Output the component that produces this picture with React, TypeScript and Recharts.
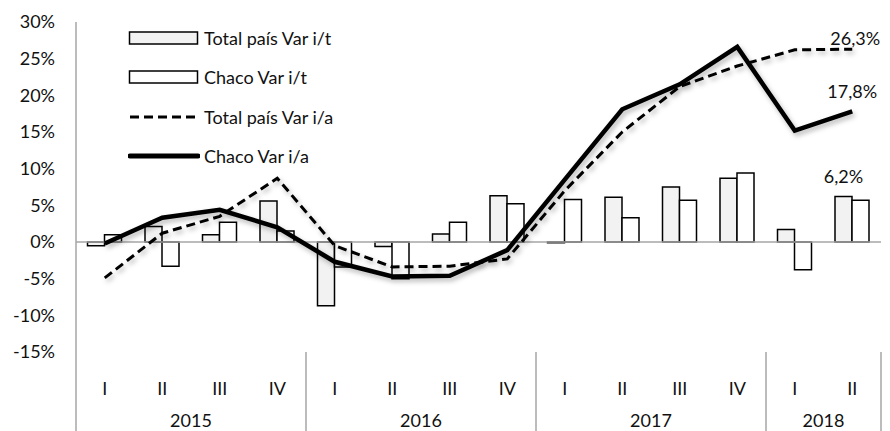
import React from 'react';
import { ComposedChart, Bar, Line, XAxis, YAxis, ReferenceLine, LabelList, Legend } from 'recharts';

const quarters = ['I', 'II', 'III', 'IV', 'I', 'II', 'III', 'IV', 'I', 'II', 'III', 'IV', 'I', 'II'];
const years = ['2015', '2015', '2015', '2015', '2016', '2016', '2016', '2016', '2017', '2017', '2017', '2017', '2018', '2018'];
const totalQoQ = [-0.5, 2.1, 1.0, 5.6, -8.7, -0.6, 1.1, 6.3, -0.1, 6.1, 7.5, 8.7, 1.7, 6.2];
const chacoQoQ = [1.0, -3.3, 2.7, 1.5, -3.4, -5.0, 2.7, 5.2, 5.8, 3.3, 5.7, 9.4, -3.8, 5.7];
const totalYoY = [-4.9, 1.2, 3.5, 8.7, -0.5, -3.4, -3.3, -2.3, 7.0, 15.0, 21.2, 24.0, 26.2, 26.3];
const chacoYoY = [-0.2, 3.3, 4.4, 2.0, -2.7, -4.7, -4.6, -1.1, 8.5, 18.1, 21.5, 26.6, 15.2, 17.8];
const yTicks = [-15, -10, -5, 0, 5, 10, 15, 20, 25, 30];

const seriesNames = ['Total país Var i/t', 'Chaco Var i/t', 'Total país Var i/a', 'Chaco Var i/a'];

const data = quarters.map((q, i) => ({
  key: `${years[i]}-${q}`,
  q,
  year: years[i],
  totalQoQ: totalQoQ[i],
  chacoQoQ: chacoQoQ[i],
  totalYoY: totalYoY[i],
  chacoYoY: chacoYoY[i],
}));

const FONT = 'Lato, "Open Sans", sans-serif';
const FS = 18;
const TEXT = '#111';
const AXIS = '#a6a6a6';
const LAST = quarters.length - 1;

const fmt = (v: number) => `${v.toFixed(1).replace('.', ',')}%`;

const XTick = (props: any) => {
  const { x, y, index, payload } = props;
  const half = payload && payload.offset ? payload.offset : 57.5 / 2;
  const band = half * 2;
  const year = years[index];
  const isStart = index === 0 || years[index - 1] !== year;
  let count = 0;
  for (let j = index; j < years.length && years[j] === year; j++) count++;
  const els: any[] = [];
  els.push(
    <text key="q" x={x} y={y + 36} textAnchor="middle" dominantBaseline="central" fontSize={FS} fill={TEXT} fontFamily={FONT}>
      {quarters[index]}
    </text>
  );
  if (isStart) {
    const left = x - half;
    els.push(<line key="s" x1={left} x2={left} y1={y} y2={y + 79} stroke={AXIS} strokeWidth={1.5} />);
    els.push(
      <text key="y" x={left + (count * band) / 2} y={y + 68} textAnchor="middle" dominantBaseline="central" fontSize={FS} fill={TEXT} fontFamily={FONT}>
        {year}
      </text>
    );
  }
  if (index === LAST) {
    els.push(<line key="e" x1={x + half} x2={x + half} y1={y} y2={y + 79} stroke={AXIS} strokeWidth={1.5} />);
  }
  return <g>{els}</g>;
};

const makeLabel = (dy: number, dx: number) => (props: any) => {
  const { x, y, value, index, width } = props;
  if (index !== LAST) return null;
  const cx = width ? x + width / 2 : x;
  return (
    <text x={cx + dx} y={y - dy} textAnchor="middle" dominantBaseline="central" fontSize={FS} fill={TEXT} fontFamily={FONT}>
      {fmt(Number(value))}
    </text>
  );
};

const LegendContent = () => {
  const row = (i: number, icon: React.ReactNode) => (
    <div key={i} style={{ position: 'absolute', left: 0, top: i * 39.3, height: 20, display: 'flex', alignItems: 'center', whiteSpace: 'nowrap' }}>
      <svg width={72} height={20} style={{ display: 'block' }}>{icon}</svg>
      <span style={{ marginLeft: 4, fontSize: FS, color: TEXT, fontFamily: FONT, lineHeight: '20px' }}>{seriesNames[i]}</span>
    </div>
  );
  return (
    <div style={{ position: 'relative', width: 260, height: 140 }}>
      {row(0, <rect x={1.5} y={4} width={68} height={12} fill="#f2f2f2" stroke="#000" strokeWidth={1.5} />)}
      {row(1, <rect x={1.5} y={4} width={68} height={12} fill="#fff" stroke="#000" strokeWidth={1.5} />)}
      {row(2, <line x1={2} x2={70} y1={10} y2={10} stroke="#000" strokeWidth={3} strokeDasharray="9 5" />)}
      {row(3, <line x1={2} x2={70} y1={10} y2={10} stroke="#000" strokeWidth={5} strokeLinecap="round" />)}
    </div>
  );
};

export default function App() {
  return (
    <div style={{ position: 'absolute', left: 0, top: 0, width: 890, height: 431, background: '#fff' }}>
      <ComposedChart
        width={890}
        height={431}
        data={data}
        margin={{ top: 22, right: 9, bottom: 0, left: 0 }}
        barCategoryGap="20%"
        barGap={0}
        style={{ fontFamily: FONT }}
      >
        <defs>
          <filter id="lineShadow" x="-10%" y="-10%" width="120%" height="130%">
            <feDropShadow dx="2" dy="3" stdDeviation="2.5" floodColor="#000" floodOpacity="0.28" />
          </filter>
        </defs>
        <XAxis
          dataKey="key"
          height={79}
          axisLine={false}
          tickLine={false}
          tickSize={0}
          tickMargin={0}
          interval={0}
          tick={<XTick />}
        />
        <YAxis
          width={76}
          domain={[-15, 30]}
          ticks={yTicks}
          interval={0}
          tickFormatter={(v: number) => `${v}%`}
          axisLine={{ stroke: AXIS, strokeWidth: 1.5 }}
          tickLine={false}
          tickSize={0}
          tickMargin={21}
          tick={{ fontSize: FS, fill: TEXT, fontFamily: FONT }}
        />
        <ReferenceLine y={0} stroke={AXIS} strokeWidth={1.5} />
        <Bar dataKey="totalQoQ" name={seriesNames[0]} fill="#f2f2f2" stroke="#000" strokeWidth={1.5} isAnimationActive={false}>
          <LabelList dataKey="totalQoQ" content={makeLabel(21, 0)} />
        </Bar>
        <Bar dataKey="chacoQoQ" name={seriesNames[1]} fill="#fff" stroke="#000" strokeWidth={1.5} isAnimationActive={false} />
        <Line
          dataKey="totalYoY"
          name={seriesNames[2]}
          type="linear"
          stroke="#000"
          strokeWidth={3}
          strokeDasharray="9 5"
          dot={false}
          activeDot={false}
          filter="url(#lineShadow)"
          isAnimationActive={false}
        >
          <LabelList dataKey="totalYoY" content={makeLabel(11, 3)} />
        </Line>
        <Line
          dataKey="chacoYoY"
          name={seriesNames[3]}
          type="linear"
          stroke="#000"
          strokeWidth={4.5}
          strokeLinejoin="miter"
          dot={false}
          activeDot={false}
          filter="url(#lineShadow)"
          isAnimationActive={false}
        >
          <LabelList dataKey="chacoYoY" content={makeLabel(20, 0)} />
        </Line>
        <Legend
          layout="vertical"
          align="center"
          verticalAlign="middle"
          content={<LegendContent />}
          wrapperStyle={{ left: 128, top: 28, width: 260, height: 140 }}
        />
      </ComposedChart>
    </div>
  );
}
